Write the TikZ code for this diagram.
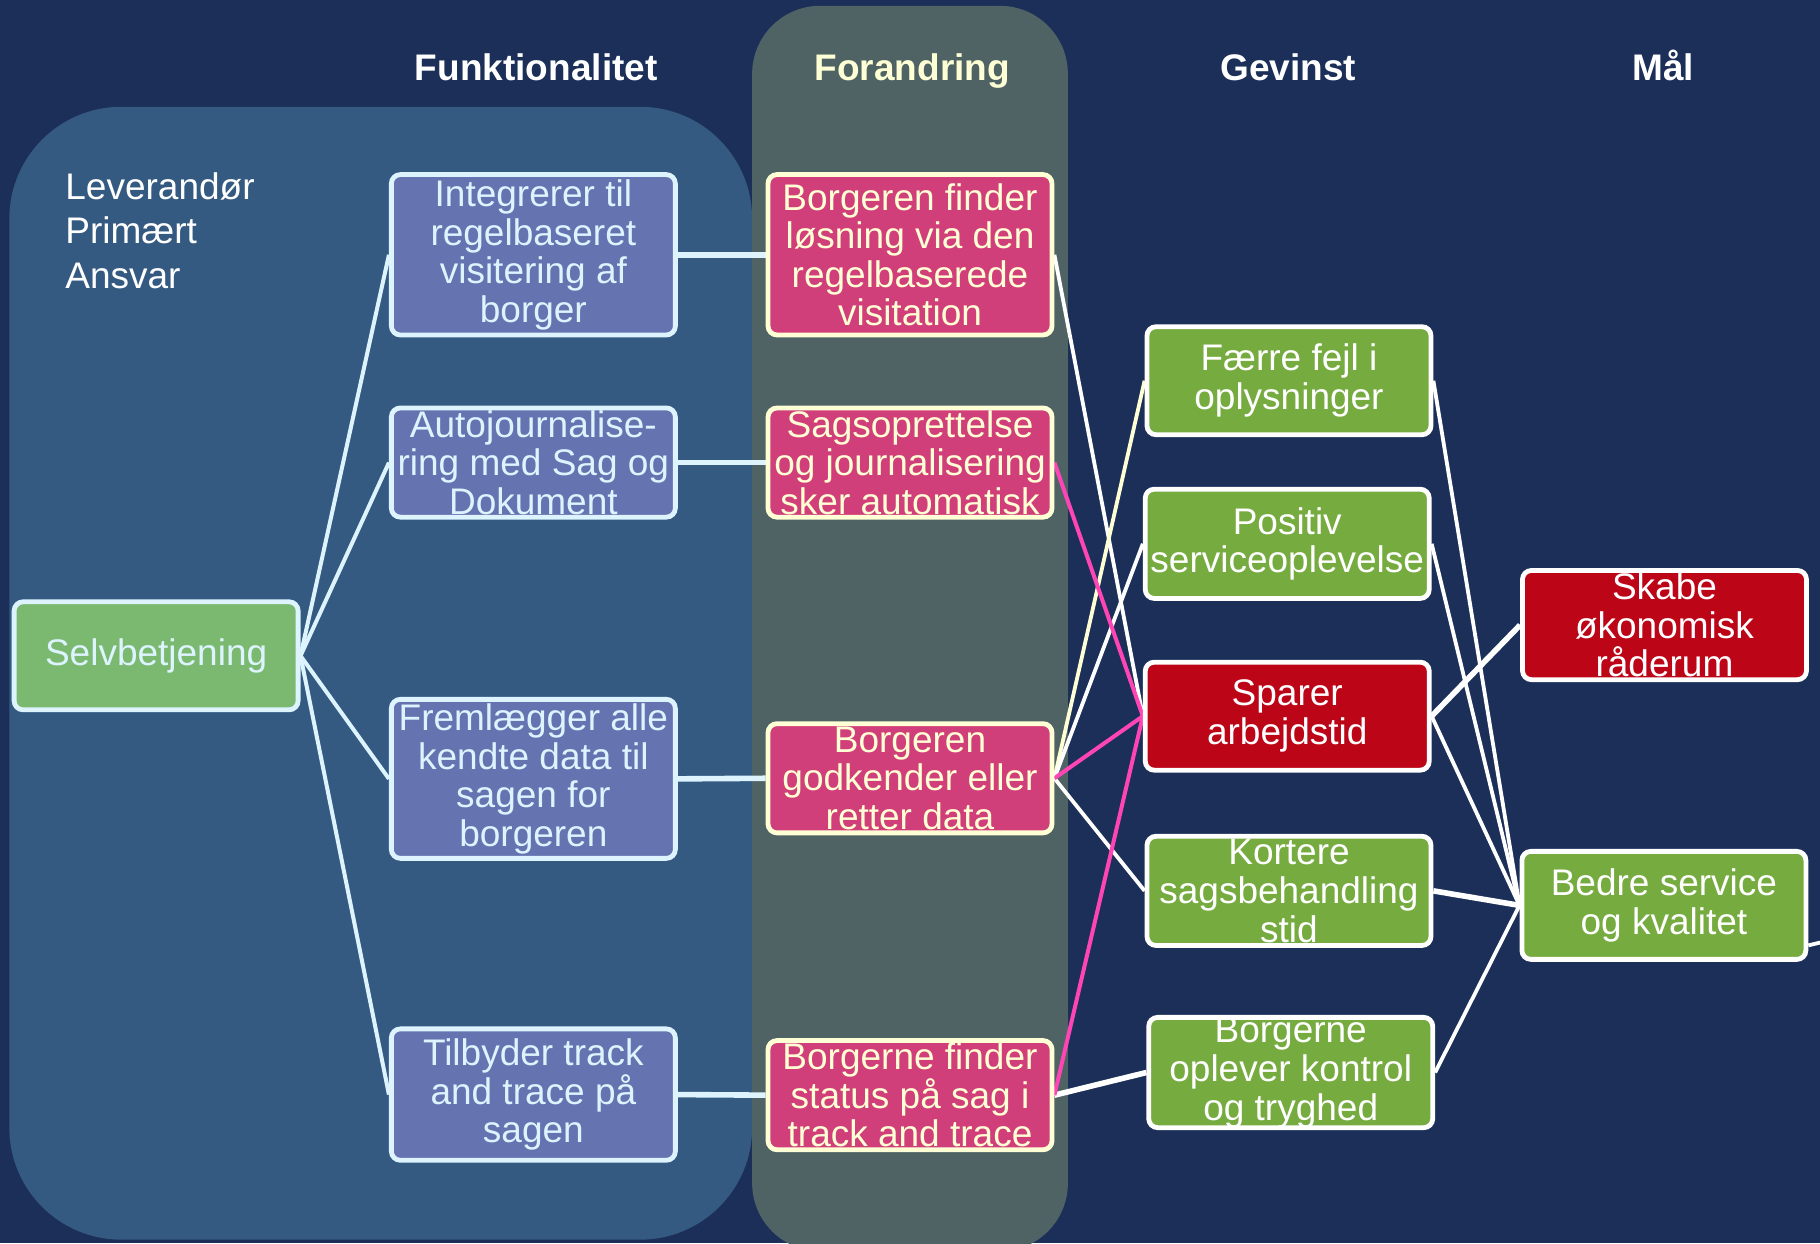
\documentclass[tikz,border=0pt]{standalone}
\usepackage{fontspec}
\setmainfont{Liberation Sans}
\definecolor{bgnavy}{RGB}{27,47,89}
\definecolor{funcpanel}{RGB}{53,90,130}
\definecolor{chgpanel}{RGB}{79,98,100}
\definecolor{selvfill}{RGB}{124,185,112}
\definecolor{funcfill}{RGB}{101,115,176}
\definecolor{chgfill}{RGB}{209,63,123}
\definecolor{gainfill}{RGB}{118,171,64}
\definecolor{redfill}{RGB}{188,6,24}
\definecolor{cyanline}{RGB}{221,244,255}
\definecolor{cream}{RGB}{255,255,213}
\definecolor{pinkline}{RGB}{255,69,181}
\pgfdeclarelayer{bg}
\pgfdeclarelayer{lines}
\pgfsetlayers{bg,lines,main}
\begin{document}
\begin{tikzpicture}[x=0.58036pt,y=-0.58036pt,
  every node/.style={font=\fontsize{18.5}{19.3}\selectfont, inner sep=0pt, align=center},
  box/.style={rounded corners=4.5pt, line width=2.4pt, minimum width=142pt},
  funcbox/.style={box, fill=funcfill, draw=cyanline, text=cyanline},
  selvbox/.style={box, fill=selvfill, draw=cyanline, text=cyanline},
  chgbox/.style={box, fill=chgfill, draw=cream, text=cream},
  gainbox/.style={box, fill=gainfill, draw=white, text=white},
  redbox/.style={box, fill=redfill, draw=white, text=white},
  hdr/.style={anchor=base, font=\bfseries\fontsize{18.5}{22}\selectfont},
  conA/.style={draw=cyanline, line width=2pt},
  conH/.style={draw=cyanline, line width=2.8pt},
  conW/.style={draw=white, line width=1.9pt},
  conWT/.style={draw=white, line width=2.8pt},
  conC/.style={draw=cream, line width=1.9pt},
  conP/.style={draw=pinkline, line width=2pt}
]
\useasboundingbox (0,0) rectangle (1568,1071);
\begin{pgfonlayer}{bg}
  \fill[bgnavy] (0,0) rectangle (1568,1071);
  \fill[funcpanel, rounded corners=56pt] (8,92) rectangle (648,1068);
  \fill[chgpanel, rounded corners=34pt] (648,5) rectangle (920,1078);
\end{pgfonlayer}

% headers
\node[hdr, text=white] (hFunk) at (462,69) {Funktionalitet};
\node[hdr, text=cream] (hFor) at (786,69) {Forandring};
\node[hdr, text=white] (hGev) at (1110,69) {Gevinst};
\node[hdr, text=white] (hMaal) at (1433,69) {Mål};
\node[anchor=north west, align=left, text=white, font=\fontsize{18.5}{22.3}\selectfont] (lev) at (56,148) {Leverandør\\Primært\\Ansvar};

% nodes
\node[selvbox, minimum height=54pt] (selv) at (134.5,565) {Selvbetjening};

\node[funcbox, minimum height=80.2pt] (integ) at (459.5,219.5) {Integrerer til\\regelbaseret\\visitering af\\borger};
\node[funcbox, minimum height=54.6pt] (auto) at (459.5,398.5) {Autojournalise-\\ring med Sag og\\Dokument};
\node[funcbox, minimum height=79.5pt] (frem) at (459.5,671) {Fremlægger alle\\kendte data til\\sagen for\\borgeren};
\node[funcbox, minimum height=65.7pt] (tilb) at (459.5,943) {Tilbyder track\\and trace på\\sagen};

\node[chgbox, minimum height=80.2pt] (bfind) at (784,219.5) {Borgeren finder\\løsning via den\\regelbaserede\\visitation};
\node[chgbox, minimum height=54.6pt] (sags) at (784,398.5) {Sagsoprettelse\\og journalisering\\sker automatisk};
\node[chgbox, minimum height=54.6pt] (godk) at (784,670.5) {Borgeren\\godkender eller\\retter data};
\node[chgbox, minimum height=54.6pt] (status) at (784,943.5) {Borgerne finder\\status på sag i\\track and trace};

\node[gainbox, minimum height=54pt] (faerre) at (1110.5,328) {Færre fejl i\\oplysninger};
\node[gainbox, minimum height=54.6pt] (posit) at (1109,468.5) {Positiv\\serviceoplevelse};
\node[redbox, minimum height=54pt] (sparer) at (1109,617) {Sparer\\arbejdstid};
\node[gainbox, minimum height=54.6pt] (kort) at (1110.5,767.5) {Kortere\\sagsbehandling\\stid};
\node[gainbox, minimum height=54pt] (oplev) at (1112,924) {Borgerne\\oplever kontrol\\og tryghed};

\node[redbox, minimum height=54.6pt] (skabe) at (1434,538.5) {Skabe\\økonomisk\\råderum};
\node[gainbox, minimum height=54pt] (bedre) at (1433.5,780) {Bedre service\\og kvalitet};

\coordinate (offR) at (1585,808);

% connectors
\begin{pgfonlayer}{lines}
  \draw[conA] (selv.east) -- (integ.west);
  \draw[conA] (selv.east) -- (auto.west);
  \draw[conA] (selv.east) -- (frem.west);
  \draw[conA] (selv.east) -- (tilb.west);

  \draw[conH] (integ.east) -- (bfind.west);
  \draw[conH] (auto.east) -- (sags.west);
  \draw[conH] (frem.east) -- (godk.west);
  \draw[conH] (tilb.east) -- (status.west);

  \draw[conW] (bfind.east) -- (sparer.west);
  \draw[conC] (godk.east) -- (faerre.west);
  \draw[conW] (godk.east) -- (posit.west);
  \draw[conW] (godk.east) -- (kort.west);
  \draw[conWT] (status.east) -- (oplev.west);
  \draw[conP] (sags.east) -- (sparer.west);
  \draw[conP] (godk.east) -- (sparer.west);
  \draw[conP] (status.east) -- (sparer.west);

  \draw[conW] (faerre.east) -- (bedre.west);
  \draw[conW] (posit.east) -- (bedre.west);
  \draw[conW] (sparer.east) -- (bedre.west);
  \draw[conWT] (sparer.east) -- (skabe.west);
  \draw[conWT] (kort.east) -- (bedre.west);
  \draw[conW] (oplev.east) -- (bedre.west);
  \draw[conW] ([yshift=-20pt]bedre.east) -- (offR);
\end{pgfonlayer}
\end{tikzpicture}
\end{document}
